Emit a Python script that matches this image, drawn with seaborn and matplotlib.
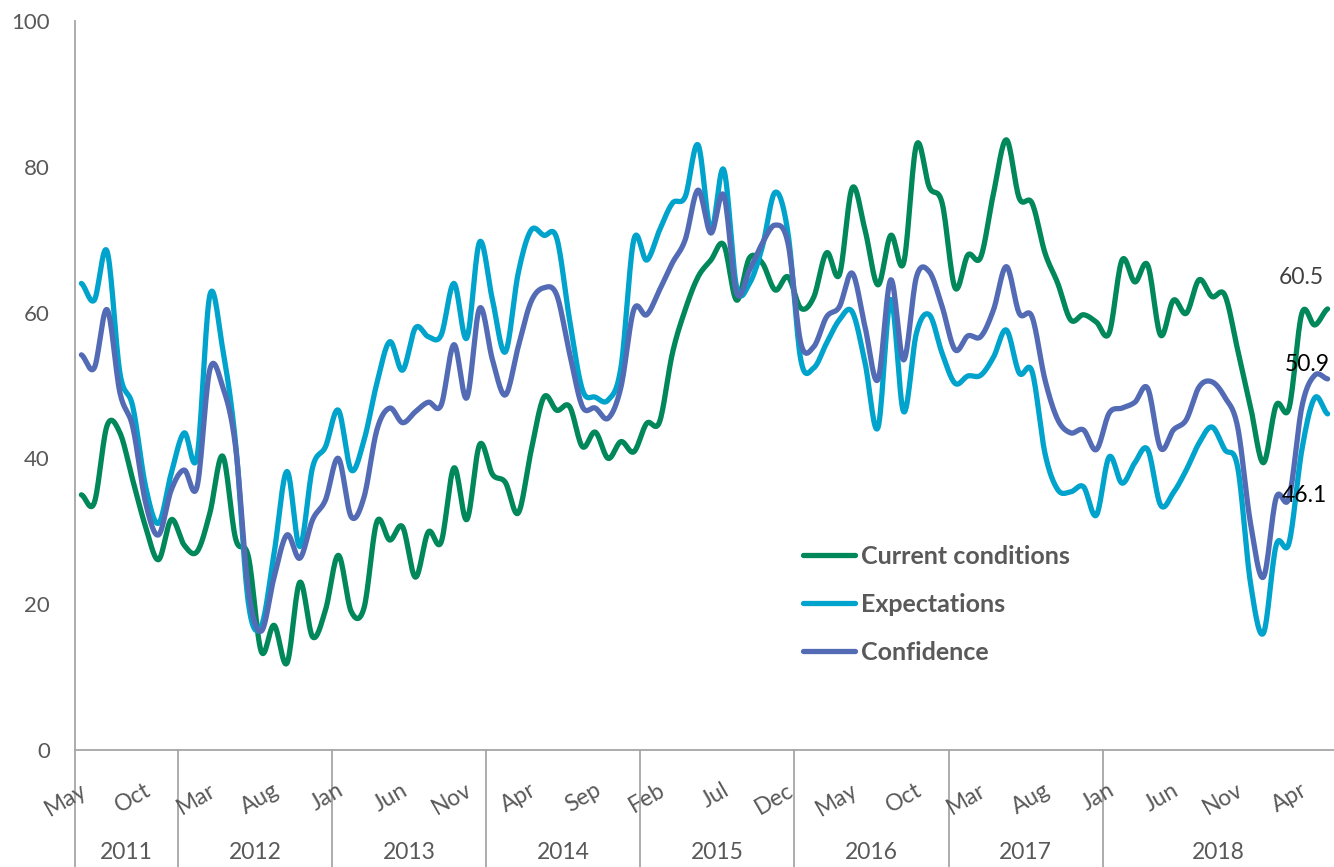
import numpy as np
import pandas as pd
import matplotlib
matplotlib.use('Agg')
import matplotlib.pyplot as plt
import seaborn as sns
from matplotlib import transforms

# monthly index values, May 2011 onwards (98 months)
current = [35.0, 33.9, 44.5, 43.5, 37.0, 30.6, 26.1, 31.6, 28.1, 27.2,
           32.5, 40.3, 29.0, 26.5, 13.5, 17.1, 11.9, 23.0, 15.5, 19.2,
           26.7, 19.0, 19.5, 31.3, 28.8, 30.6, 23.7, 29.9, 28.5, 38.7,
           31.6, 41.9, 37.8, 36.7, 32.5, 41.0, 48.4, 46.6, 47.1, 41.6,
           43.6, 40.0, 42.3, 40.9, 44.8, 45.0, 54.4, 60.4, 64.9, 67.2,
           69.3, 61.7, 67.5, 66.8, 63.1, 64.9, 60.6, 62.1, 68.2, 65.2,
           77.1, 71.3, 63.8, 70.6, 66.8, 83.0, 77.2, 75.0, 63.4, 67.9,
           67.6, 76.4, 83.7, 75.7, 75.0, 68.2, 64.0, 59.0, 59.7, 58.7,
           57.2, 67.2, 64.2, 66.5, 56.9, 61.7, 59.9, 64.5, 62.2, 62.4,
           54.9, 47.1, 39.4, 47.3, 46.9, 59.9, 58.3, 60.5]
expectations = [64.0, 61.7, 68.4, 51.7, 47.1, 36.1, 31.1, 38.0, 43.5, 40.2,
                62.4, 55.0, 42.1, 20.1, 17.0, 27.0, 38.2, 27.9, 38.8, 41.6,
                46.6, 38.4, 42.5, 50.3, 56.0, 52.1, 57.9, 56.7, 56.9, 64.0,
                56.5, 69.7, 61.7, 54.6, 65.4, 71.3, 70.6, 70.2, 59.0, 49.4,
                48.4, 48.0, 52.5, 70.0, 67.2, 71.3, 75.0, 75.9, 83.0, 71.3,
                79.6, 63.5, 64.0, 69.0, 76.5, 70.9, 53.5, 52.4, 55.8, 59.0,
                60.1, 53.1, 44.2, 61.8, 46.4, 57.2, 59.7, 54.4, 50.3, 51.3,
                51.4, 53.9, 57.6, 51.7, 51.9, 40.7, 35.7, 35.4, 36.1, 32.2,
                40.2, 36.6, 39.4, 41.2, 33.6, 35.3, 38.4, 42.1, 44.3, 41.2,
                38.8, 22.9, 16.0, 28.1, 28.4, 41.2, 48.3, 46.1]
confidence = [54.2, 52.4, 60.4, 49.0, 44.3, 33.9, 29.5, 35.7, 38.4, 36.1,
              52.2, 49.8, 41.6, 21.9, 16.3, 23.7, 29.5, 26.3, 31.6, 34.3,
              40.0, 32.0, 34.7, 43.9, 46.9, 44.9, 46.4, 47.7, 47.3, 55.6,
              48.3, 60.6, 53.5, 48.7, 55.3, 61.5, 63.4, 62.4, 54.4, 47.1,
              46.9, 45.5, 49.8, 60.4, 59.7, 63.1, 66.8, 70.0, 76.8, 70.9,
              76.1, 62.7, 65.8, 69.5, 72.0, 69.5, 55.8, 55.3, 59.4, 60.8,
              65.4, 58.0, 50.8, 64.5, 53.5, 64.9, 65.6, 60.8, 54.9, 56.8,
              56.7, 60.4, 66.3, 59.9, 59.4, 50.8, 45.3, 43.5, 43.9, 41.2,
              46.2, 46.9, 47.7, 49.6, 41.4, 43.9, 45.3, 49.8, 50.5, 48.4,
              44.3, 31.1, 23.7, 34.6, 34.6, 47.1, 51.4, 50.9]

month_names = ['Jan', 'Feb', 'Mar', 'Apr', 'May', 'Jun',
               'Jul', 'Aug', 'Sep', 'Oct', 'Nov', 'Dec']
months = [month_names[(4 + k) % 12] for k in range(len(current))]
years = ['2011', '2012', '2013', '2014', '2015', '2016', '2017', '2018']
year_len = [8, 12, 12, 12, 12, 12, 12, 18]

series = ['Current conditions', 'Expectations', 'Confidence']
colors = ['#00875A', '#00A3CB', '#536BB5']
grey = '#595959'


def smooth(y, n=16):
    # excel-style smoothed line (bezier through the points)
    y = np.asarray(y, float)
    p = np.concatenate([[y[0]], y, [y[-1]]])
    t = np.linspace(0, 1, n, endpoint=False)
    xs, ys = [], []
    for k in range(len(y) - 1):
        p0, p1, p2, p3 = p[k], p[k + 1], p[k + 2], p[k + 3]
        c1 = p1 + (p2 - p0) / 6
        c2 = p2 - (p3 - p1) / 6
        b = (1 - t) ** 3 * p1 + 3 * (1 - t) ** 2 * t * c1 + 3 * (1 - t) * t ** 2 * c2 + t ** 3 * p2
        xs.append(k + t)
        ys.append(b)
    xs.append([len(y) - 1])
    ys.append([y[-1]])
    return np.concatenate(xs), np.concatenate(ys)


frames = []
for name, vals in zip(series, [current, expectations, confidence]):
    sx, sy = smooth(vals)
    frames.append(pd.DataFrame({'x': sx, 'value': sy, 'series': name}))
df = pd.concat(frames, ignore_index=True)

sns.set_style('white')
plt.rcParams['font.family'] = ['Lato', 'DejaVu Sans']

fig = plt.figure(figsize=(13.34, 8.67), dpi=100)
ax = fig.add_axes([0.0562, 0.135, 0.9438, 0.8408])

sns.lineplot(data=df, x='x', y='value', hue='series', palette=colors,
             linewidth=3.8, sort=False, estimator=None, ax=ax)

ax.set_xlim(-0.5, len(current) - 0.5)
ax.set_ylim(0, 100)
ax.set_yticks([0, 20, 40, 60, 80, 100])
ax.tick_params(axis='y', length=0, pad=18, labelsize=16, labelcolor=grey)
ax.set_xticks([])
ax.set_xlabel('')
ax.set_ylabel('')
for s in ['top', 'right']:
    ax.spines[s].set_visible(False)
for s in ['left', 'bottom']:
    ax.spines[s].set_color('#A6A6A6')
    ax.spines[s].set_linewidth(1.3)

# month labels every 5 months, rotated
trans = transforms.blended_transform_factory(ax.transData, ax.transAxes)
for i in range(0, len(months), 5):
    ax.text(i + 0.3, -0.053, months[i], transform=trans, rotation=30,
            rotation_mode='anchor', ha='right', va='center',
            fontsize=16.5, color=grey)

# year groups with separators
start = -0.5
for yr, n in zip(years, year_len):
    ax.plot([start, start], [0, -0.2], transform=trans, color='#A6A6A6',
            lw=1.3, clip_on=False)
    ax.text(start + n / 2, -0.141, yr, transform=trans, ha='center',
            va='center', fontsize=16.5, color=grey)
    start += n

# end-value labels
last = len(current) - 1
ax.annotate('60.5', (last, current[-1]), xytext=(-26, 31),
            textcoords='offset pixels', ha='center', va='center',
            fontsize=16.5, color='#404040')
ax.annotate('50.9', (last, confidence[-1]), xytext=(-20, 14),
            textcoords='offset pixels', ha='center', va='center',
            fontsize=16.5, color='black')
ax.annotate('46.1', (last, expectations[-1]), xytext=(-23, -82),
            textcoords='offset pixels', ha='center', va='center',
            fontsize=16.5, color='black')

leg = ax.legend(loc='upper left', bbox_to_anchor=(0.56, 0.312), frameon=False,
                handlelength=2.1, handletextpad=0.22, labelspacing=1.0,
                prop={'family': 'Lato', 'weight': 'bold', 'size': 18},
                labelcolor=grey)
for line in leg.get_lines():
    line.set_linewidth(3.8)

fig.savefig('out.png', dpi=100)
